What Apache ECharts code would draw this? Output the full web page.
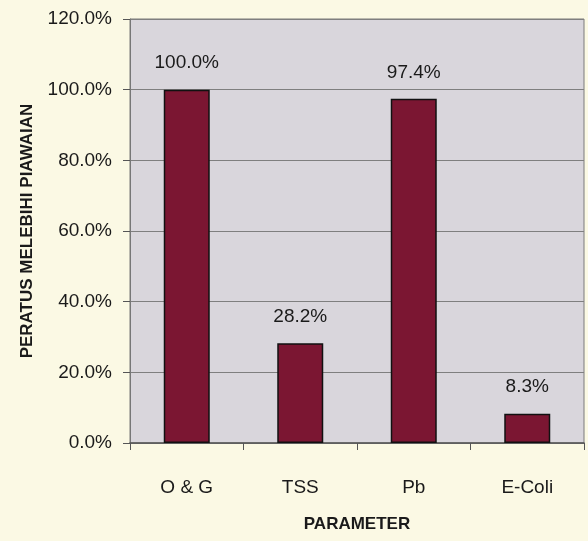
<!DOCTYPE html>
<html><head><meta charset="utf-8">
<script src="https://cdn.jsdelivr.net/npm/echarts@6/dist/echarts.min.js"></script>
<style>html,body{margin:0;padding:0;background:#fbf9e4;}#c{width:588px;height:541px;}</style>
</head><body><div id="c"></div>
<script>
const categories = ['O & G', 'TSS', 'Pb', 'E-Coli'];
const values = [100.0, 28.2, 97.4, 8.3];
const yTicks = [0, 20, 40, 60, 80, 100, 120];

const chart = echarts.init(document.getElementById('c'));
chart.setOption({
  backgroundColor: '#fbf9e4',
  animation: false,
  grid: {left: 130, right: 4, top: 19, bottom: 98, show: true, backgroundColor: '#d9d6dc', borderColor: '#7a7a7a', borderWidth: 1},
  xAxis: {
    type: 'category', data: categories,
    axisLine: {lineStyle: {color: '#555', width: 1.5}},
    axisTick: {show: true, alignWithLabel: false, length: 7, lineStyle: {color: '#555'}},
    axisLabel: {fontFamily: 'Liberation Sans', fontSize: 19, color: '#1a1a1a', margin: 35},
    name: 'PARAMETER', nameLocation: 'middle', nameGap: 73,
    nameTextStyle: {fontFamily: 'Liberation Sans', fontWeight: 'bold', fontSize: 17, color: '#1a1a1a'}
  },
  yAxis: {
    type: 'value', min: 0, max: 120, interval: 20,
    axisLine: {show: true, lineStyle: {color: '#777'}},
    axisTick: {show: true, length: 7, lineStyle: {color: '#555'}},
    splitLine: {lineStyle: {color: '#7f7f7f', width: 1}},
    axisLabel: {fontFamily: 'Liberation Sans', fontSize: 19, color: '#1a1a1a', margin: 18,
      formatter: v => v.toFixed(1) + '%'},
    name: 'PERATUS MELEBIHI PIAWAIAN', nameLocation: 'middle', nameGap: 94, nameRotate: 90,
    nameTextStyle: {fontFamily: 'Liberation Sans', fontWeight: 'bold', fontSize: 17, color: '#1a1a1a'}
  },
  series: [{
    type: 'bar', data: values, barWidth: 46,
    itemStyle: {color: '#7b1632', borderColor: '#111', borderWidth: 1.5},
    label: {show: true, position: 'top', distance: 17, fontFamily: 'Liberation Sans', fontSize: 19, color: '#1a1a1a',
      formatter: p => p.value.toFixed(1) + '%'}
  }]
});
</script></body></html>
